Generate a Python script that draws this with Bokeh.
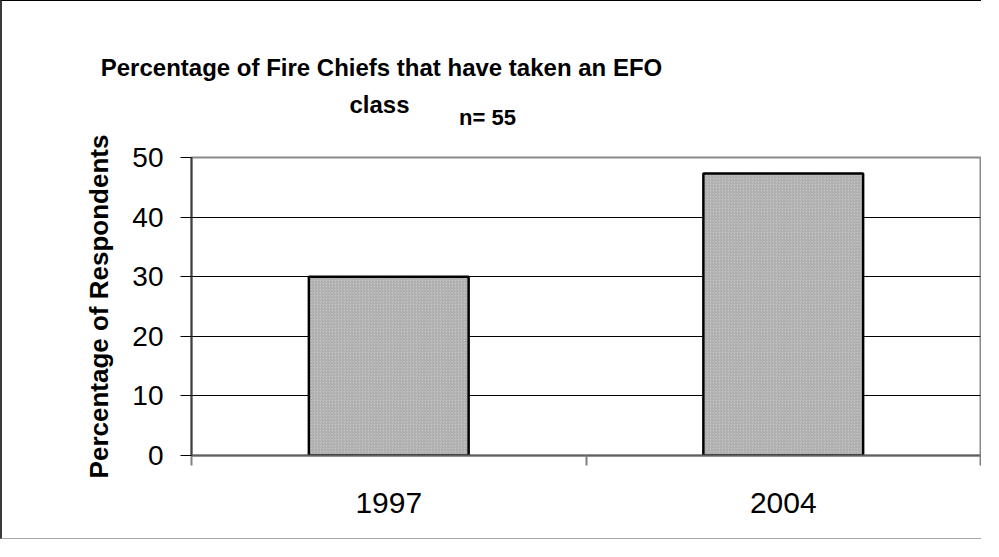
from bokeh.plotting import figure
from bokeh.models import Range1d, FixedTicker, Label
from bokeh.embed import file_html
from bokeh.resources import INLINE

# ---- data ----
years = ["1997", "2004"]
percentages = [30.0, 47.3]
y_ticks = [0, 10, 20, 30, 40, 50]
title_line1 = "Percentage of Fire Chiefs that have taken an EFO"
title_line2 = "class"
subtitle = "n= 55"
y_label = "Percentage of Respondents"

FONT = "Liberation Sans"
W, H = 981, 539

p = figure(width=W, height=H, output_backend="svg", toolbar_location=None,
           x_range=Range1d(0, len(years)), y_range=Range1d(y_ticks[0], y_ticks[-1]),
           min_border_left=189, min_border_right=3, min_border_top=156,
           min_border_bottom=85, background_fill_color="white",
           border_fill_color="white")
p.styles = {"border-left": "2px solid #3a3a3a", "border-top": "1px solid #000000",
            "border-bottom": "1px solid #a8a8a8"}

centers = [i + 0.5 for i in range(len(years))]
p.vbar(x=centers, top=percentages, bottom=0, width=0.405,
       fill_color="#c4c4c4", line_color="black", line_width=2.5,
       hatch_pattern="/", hatch_color="#a6a6a6", hatch_scale=3, hatch_weight=1)

p.outline_line_color = "#8a8a8a"
p.outline_line_width = 2

p.xgrid.grid_line_color = None
p.ygrid.ticker = FixedTicker(ticks=y_ticks)
p.ygrid.grid_line_color = "black"
p.ygrid.grid_line_width = 1

# y axis
ya = p.yaxis[0]
ya.ticker = FixedTicker(ticks=y_ticks, minor_ticks=[])
ya.axis_line_color = "#404040"
ya.axis_line_width = 2
ya.major_tick_out = 11
ya.major_tick_in = 0
ya.major_tick_line_color = "black"
ya.minor_tick_line_color = None
ya.major_label_text_font = FONT
ya.major_label_text_font_size = "28px"
ya.major_label_text_color = "black"
ya.major_label_standoff = 17
ya.axis_label = y_label
ya.axis_label_text_font = FONT
ya.axis_label_text_font_size = "26px"
ya.axis_label_text_font_style = "bold"
ya.axis_label_text_color = "black"
ya.axis_label_standoff = 15

# x axis
xa = p.xaxis[0]
xa.ticker = FixedTicker(ticks=centers, minor_ticks=list(range(len(years) + 1)))
xa.major_label_overrides = {c: y for c, y in zip(centers, years)}
xa.axis_line_color = "#606060"
xa.axis_line_width = 2
xa.major_tick_line_color = None
xa.major_tick_out = 0
xa.major_tick_in = 0
xa.minor_tick_out = 10
xa.minor_tick_in = 0
xa.minor_tick_line_color = "#808080"
xa.minor_tick_line_width = 2
xa.major_label_text_font = FONT
xa.major_label_text_font_size = "30px"
xa.major_label_text_color = "black"
xa.major_label_standoff = 27

# titles (canvas coordinates, placed in the panel above the frame)
for txt, x, y, size in [(title_line1, 377, 65, "24px"),
                         (title_line2, 375, 102, "24px"),
                         (subtitle, 483, 115, "22px")]:
    p.add_layout(Label(x=x, y=y, x_units="canvas", y_units="canvas", text=txt,
                       text_font=FONT, text_font_size=size,
                       text_font_style="bold", text_color="black",
                       text_align="center", text_baseline="middle"), "above")

open("out.html", "w").write(file_html(p, INLINE))
